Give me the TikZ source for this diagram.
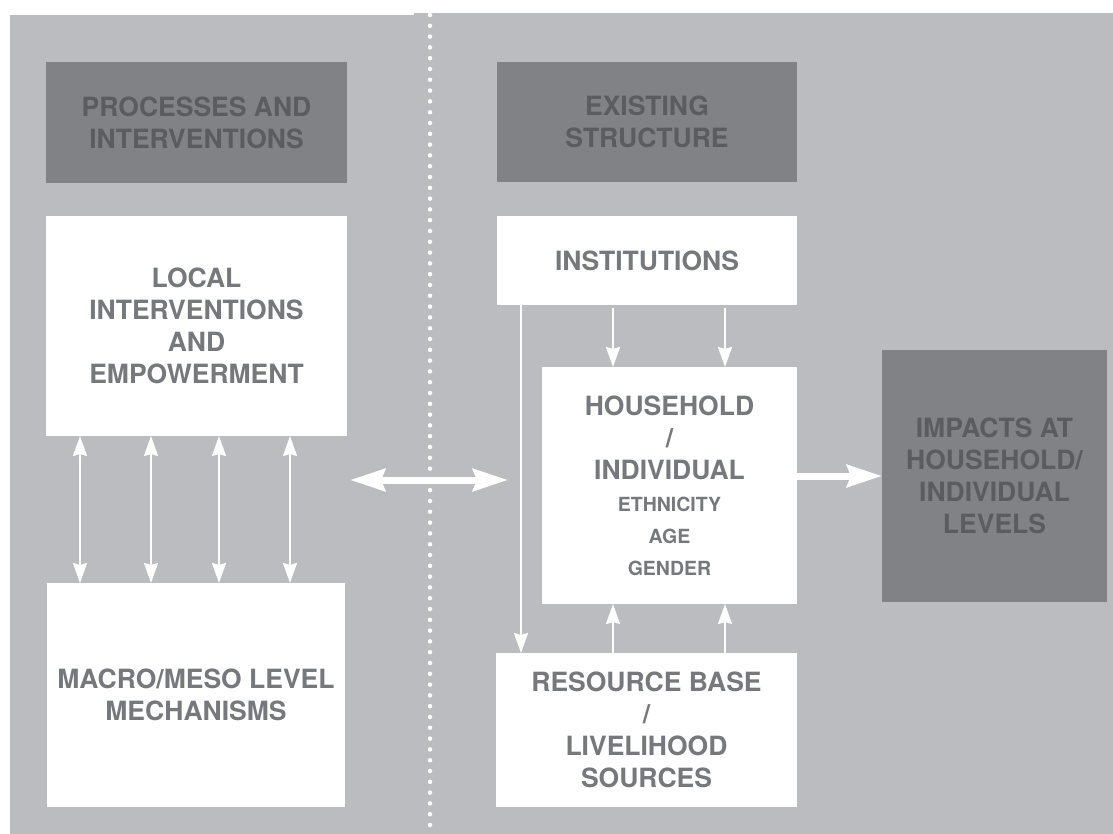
\documentclass[tikz,border=0pt]{standalone}
\usepackage{fontspec}
\setmainfont{TeX Gyre Heros}
\usetikzlibrary{arrows.meta}
\definecolor{panelgray}{HTML}{BBBCC0}
\definecolor{boxgray}{HTML}{818286}
\definecolor{inktext}{HTML}{77787B}
\definecolor{darktext}{HTML}{5B5C5F}
\newcommand{\subline}[1]{{\fontsize{19.5}{32}\selectfont #1}}
\begin{document}
\begin{tikzpicture}[x=1pt,y=-1pt,
  wbox/.style={fill=white,inner sep=0pt,outer sep=0pt,align=center,text=inktext,
    font=\bfseries\fontsize{26.5}{32}\selectfont},
  dbox/.style={wbox,fill=boxgray,text=darktext},
  tarr/.style={white,line width=2.2pt,>={Stealth[length=20pt,width=14pt,inset=2pt]}},
  barr/.style={white,line width=7pt,>={Stealth[length=35pt,width=22pt,inset=4pt]}}]
\useasboundingbox (0,0) rectangle (1113,834);
\fill[panelgray] (10,15) rectangle (414,834);
\fill[panelgray] (414,13) rectangle (1113,834);
\draw[white,line width=4.5pt,line cap=round,dash pattern=on 0pt off 10.8pt] (430,15) -- (430,834);

\node[dbox,minimum width=301pt,minimum height=121pt] (procs) at (196.5,122.5) {PROCESSES AND\\INTERVENTIONS};
\node[dbox,minimum width=300pt,minimum height=120pt] (exist) at (647,122) {EXISTING\\STRUCTURE};
\node[wbox,minimum width=301pt,minimum height=220pt] (local) at (196.5,326) {LOCAL\\INTERVENTIONS\\AND\\EMPOWERMENT};
\node[wbox,minimum width=298pt,minimum height=224pt] (macro) at (196,695) {MACRO/MESO LEVEL\\MECHANISMS};
\node[wbox,minimum width=300pt,minimum height=89pt] (inst) at (647,260.5) {INSTITUTIONS};
\node[wbox,minimum width=255pt,minimum height=237pt] (house) at (669.5,485.5)
  {HOUSEHOLD\\/\\INDIVIDUAL\\\subline{ETHNICITY}\\\subline{AGE}\\\subline{GENDER}};
\node[wbox,minimum width=301pt,minimum height=154pt] (res) at (646.5,730) {RESOURCE BASE\\/\\LIVELIHOOD\\SOURCES};
\node[dbox,minimum width=225pt,minimum height=252pt] (impact) at (994.5,476) {IMPACTS AT\\HOUSEHOLD/\\INDIVIDUAL\\LEVELS};

\foreach \dx in {34,105,173,244}{
  \path ([xshift=\dx pt]local.south west) coordinate (t);
  \draw[tarr,<->] (t) -- (t |- macro.north);
}
\foreach \dx in {116,228}{
  \path ([xshift=\dx pt,yshift=-3pt]inst.south west) coordinate (a);
  \draw[tarr,->] (a) -- (a |- house.north);
  \draw[tarr,->] (a |- res.north) -- (a |- house.south);
}
\path ([xshift=24pt]inst.south west) coordinate (c);
\draw[tarr,->] (c) -- (c |- res.north);

\coordinate (dl) at (350,480);
\coordinate (dr) at (508,480);
\draw[barr,<->] (dl) -- (dr);
\draw[barr,->] (house.east |- impact.west) -- (impact.west);
\end{tikzpicture}
\end{document}
